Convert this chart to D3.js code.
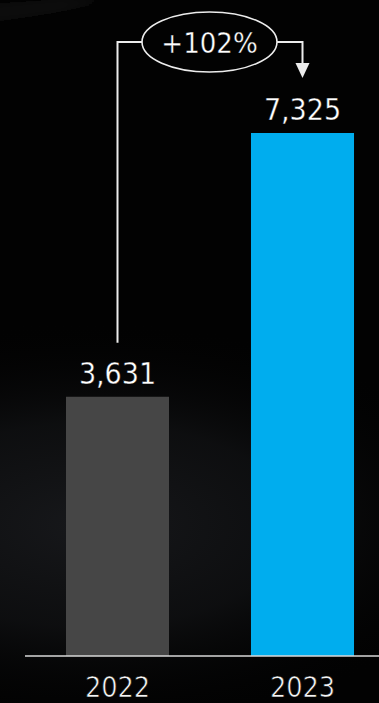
<!DOCTYPE html>
<html>
<head>
<meta charset="utf-8">
<script src="https://cdn.jsdelivr.net/npm/d3@7"></script>
<style>
  html, body { margin: 0; padding: 0; background: #020202; }
  svg { display: block; }
</style>
</head>
<body>
<svg id="chart" width="379" height="703"></svg>
<script>
// Annual totals
const years = ["2022", "2023"];
const values = [3631, 7325];
const barColors = ["#464646", "#00adee"];
const growthLabel = "+102%";

const W = 379, H = 703;
const baseY = 656;
const svg = d3.select("#chart");
const defs = svg.append("defs");

// Background: near-black with a soft grey glow low on the left
const glow = defs.append("radialGradient")
  .attr("id", "glow")
  .attr("gradientUnits", "userSpaceOnUse")
  .attr("cx", 90).attr("cy", 525).attr("r", 340)
  .attr("gradientTransform", "translate(90,525) scale(1.2,0.6) translate(-90,-525)");
glow.append("stop").attr("offset", "0%").attr("stop-color", "#17181b").attr("stop-opacity", 1);
glow.append("stop").attr("offset", "50%").attr("stop-color", "#111214").attr("stop-opacity", 0.75);
glow.append("stop").attr("offset", "100%").attr("stop-color", "#020202").attr("stop-opacity", 0);

const sweep = defs.append("linearGradient")
  .attr("id", "sweep").attr("x1", "0").attr("y1", "0").attr("x2", "1").attr("y2", "0");
sweep.append("stop").attr("offset", "0%").attr("stop-color", "#181818").attr("stop-opacity", 0.5);
sweep.append("stop").attr("offset", "60%").attr("stop-color", "#181818").attr("stop-opacity", 0.6);
sweep.append("stop").attr("offset", "100%").attr("stop-color", "#181818").attr("stop-opacity", 0);

defs.append("filter").attr("id", "soft")
  .attr("x", "-50%").attr("y", "-50%").attr("width", "200%").attr("height", "200%")
  .append("feGaussianBlur").attr("stdDeviation", 4);

svg.append("rect").attr("width", W).attr("height", H).attr("fill", "#020202");
svg.append("rect").attr("width", W).attr("height", H).attr("fill", "url(#glow)");
svg.append("path")
  .attr("d", "M-10,4 Q50,0 110,-4 L112,0 Q60,14 -10,22 Z")
  .attr("fill", "url(#sweep)")
  .attr("filter", "url(#soft)");

// Scales
const x = d3.scaleBand()
  .domain(years)
  .range([25, 395])
  .paddingInner(0.443)
  .paddingOuter(0.2215);

const y = d3.scaleLinear()
  .domain([0, 7325])
  .range([baseY, 133]);

const data = years.map((yr, i) => ({ year: yr, value: values[i], color: barColors[i] }));

// Bars
svg.append("g").selectAll("rect")
  .data(data)
  .join("rect")
  .attr("x", d => x(d.year))
  .attr("y", d => y(d.value))
  .attr("width", x.bandwidth())
  .attr("height", d => baseY - y(d.value))
  .attr("fill", d => d.color);

const font = "'DejaVu Sans Condensed', 'DejaVu Sans', sans-serif";

// Value labels (a faint dark outline keeps the glyphs light)
svg.append("g").selectAll("text")
  .data(data)
  .join("text")
  .attr("x", d => x(d.year) + x.bandwidth() / 2)
  .attr("y", d => y(d.value) - 13)
  .attr("text-anchor", "middle")
  .attr("fill", "#ffffff")
  .attr("stroke", "#050505")
  .attr("stroke-width", 0.35)
  .style("font-family", font)
  .style("font-size", "30px")
  .text(d => d3.format(",")(d.value));

// Baseline axis with year labels
const axis = svg.append("g").attr("transform", `translate(0,${baseY})`)
  .call(d3.axisBottom(x).tickSize(0).tickPadding(0));
axis.select(".domain").remove();
axis.append("line")
  .attr("x1", 25).attr("x2", W)
  .attr("y1", 0).attr("y2", 0)
  .attr("stroke", "#d8d8d8").attr("stroke-width", 1.5);
axis.selectAll(".tick text")
  .attr("y", 41)
  .attr("dy", 0)
  .attr("fill", "#f4f4f4")
  .attr("stroke", "#030303")
  .attr("stroke-width", 0.6)
  .style("font-family", font)
  .style("font-size", "28.5px");

// Growth connector between the two bars
const cx1 = x(years[0]) + x.bandwidth() / 2;
const cx2 = x(years[1]) + x.bandwidth() / 2;
const ell = { cx: 209.5, cy: 42, rx: 67.5, ry: 30 };
const lineColor = "#ececec";

const g = svg.append("g").attr("fill", "none").attr("stroke", lineColor).attr("stroke-width", 2);
g.append("path")
  .attr("d", `M${cx1},${y(values[0]) - 54} V${ell.cy} H${ell.cx - ell.rx}`);
g.append("path")
  .attr("d", `M${ell.cx + ell.rx},${ell.cy} H${cx2} V${64}`);
g.append("ellipse")
  .attr("cx", ell.cx).attr("cy", ell.cy)
  .attr("rx", ell.rx).attr("ry", ell.ry)
  .attr("stroke-width", 1.6);

svg.append("path")
  .attr("d", `M${cx2 - 7},63 L${cx2 + 7},63 L${cx2},78 Z`)
  .attr("fill", lineColor);

svg.append("text")
  .attr("x", ell.cx)
  .attr("y", 53)
  .attr("text-anchor", "middle")
  .attr("fill", "#ffffff")
  .attr("stroke", "#050505")
  .attr("stroke-width", 0.35)
  .style("font-family", font)
  .style("font-size", "29px")
  .text(growthLabel);
</script>
</body>
</html>
